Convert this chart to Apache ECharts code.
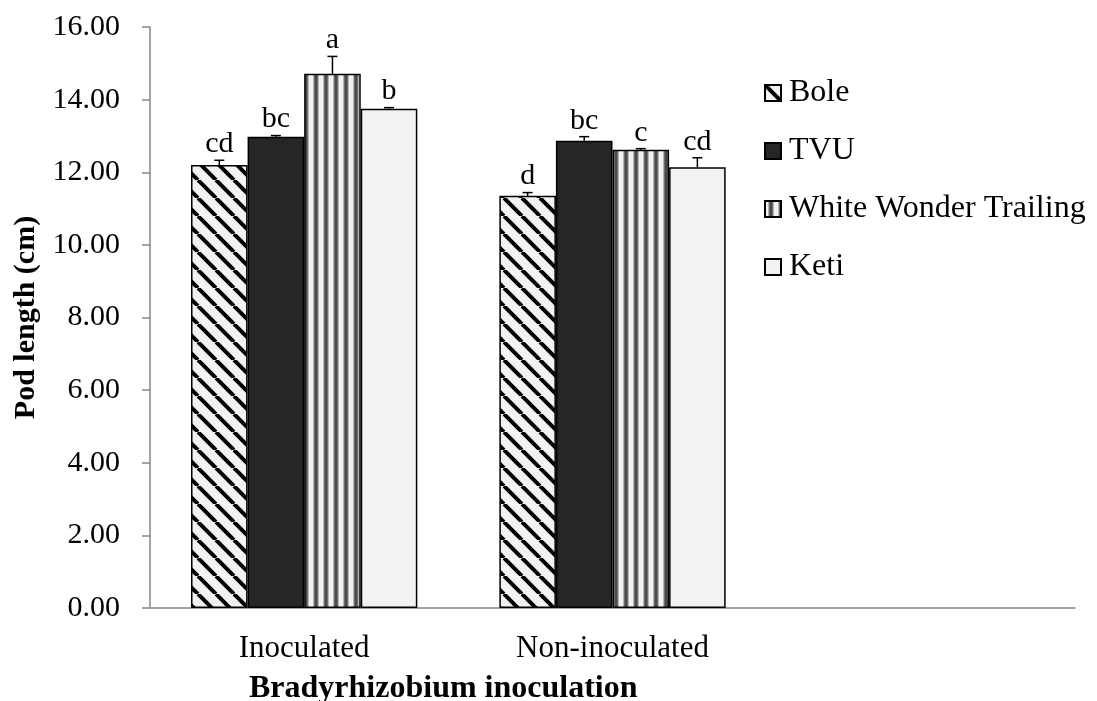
<!DOCTYPE html>
<html>
<head>
<meta charset="utf-8">
<script src="https://cdn.jsdelivr.net/npm/echarts@6/dist/echarts.min.js"></script>
<style>
html,body{margin:0;padding:0;background:#fff;}
#chart{width:1097px;height:701px;}
</style>
</head>
<body>
<div id="chart"></div>
<script>
// ---- data ----
const categories = ['Inoculated', 'Non-inoculated', ''];
const seriesNames = ['Bole', 'TVU', 'White Wonder Trailing', 'Keti'];
const boleValues = [12.20, 11.35];
const tvuValues = [12.98, 12.87];
const wwtValues = [14.71, 12.62];
const ketiValues = [13.75, 12.14];
const boleErrors = [0.13, 0.09];
const tvuErrors = [0.03, 0.11];
const wwtErrors = [0.48, 0.03];
const ketiErrors = [0.03, 0.26];
const boleLetters = ['cd', 'd'];
const tvuLetters = ['bc', 'bc'];
const wwtLetters = ['a', 'c'];
const ketiLetters = ['b', 'cd'];
const yTicks = [0, 2, 4, 6, 8, 10, 12, 14, 16];

const FONT = "'Liberation Serif','Times New Roman',serif";
const BAR_CAT_GAP = 0.266;

function diagPattern() {
  const s = 18;
  const c = document.createElement('canvas');
  c.width = s; c.height = s;
  const g = c.getContext('2d');
  g.fillStyle = '#f2f2f2';
  g.fillRect(0, 0, s, s);
  g.strokeStyle = '#000';
  g.lineWidth = 4;
  for (const off of [-s, 0, s]) {
    g.beginPath();
    g.moveTo(off, 0);
    g.lineTo(off + s, s);
    g.stroke();
  }
  return c;
}
function vertPattern() {
  const c = document.createElement('canvas');
  c.width = 10; c.height = 4;
  const g = c.getContext('2d');
  const cols = ['#f2f2f2', '#f2f2f2', '#f2f2f2', '#b5b5b5', '#6e6e6e', '#4a4a4a', '#4a4a4a', '#6e6e6e', '#b5b5b5', '#f2f2f2'];
  cols.forEach((col, i) => { g.fillStyle = col; g.fillRect(i, 0, 1, 4); });
  return c;
}

const fills = [
  { image: diagPattern(), repeat: 'repeat' },
  '#262626',
  { image: vertPattern(), repeat: 'repeat' },
  '#f2f2f2'
];
const valueSets = [boleValues, tvuValues, wwtValues, ketiValues];
const errorSets = [boleErrors, tvuErrors, wwtErrors, ketiErrors];
const letterSets = [boleLetters, tvuLetters, wwtLetters, ketiLetters];

const barSeries = seriesNames.map((name, i) => ({
  name: name,
  type: 'bar',
  data: valueSets[i],
  barGap: '0%',
  barCategoryGap: (BAR_CAT_GAP * 100) + '%',
  itemStyle: { color: fills[i], borderColor: '#000', borderWidth: 1.5 },
  emphasis: { disabled: true },
  z: 2
}));

const errSeries = seriesNames.map((name, i) => ({
  name: name + ' err',
  type: 'custom',
  z: 5,
  silent: true,
  data: valueSets[i].map((v, k) => [k, v, errorSets[i][k]]),
  encode: { x: 0, y: 1 },
  renderItem: function (params, api) {
    const cat = api.value(0);
    const v = api.value(1);
    const e = api.value(2);
    const base = api.coord([cat, v]);
    const catW = api.size([1, 0])[0];
    const barW = catW * (1 - BAR_CAT_GAP) / 4;
    const cx = base[0] + (i - 1.5) * barW;
    const yTop = api.coord([cat, v + e])[1];
    const yBar = base[1];
    const txt = letterSets[i][params.dataIndex];
    return {
      type: 'group',
      children: [
        { type: 'line', shape: { x1: cx, y1: yBar, x2: cx, y2: yTop }, style: { stroke: '#000', lineWidth: 1.5 } },
        { type: 'line', shape: { x1: cx - 5, y1: yTop, x2: cx + 5, y2: yTop }, style: { stroke: '#000', lineWidth: 1.5 } },
        { type: 'text', style: { text: txt, x: cx, y: yTop - 1, align: 'center', verticalAlign: 'bottom', fontSize: 30, fontFamily: FONT, fill: '#000' } }
      ]
    };
  }
}));

const chart = echarts.init(document.getElementById('chart'), null, { renderer: 'canvas' });
chart.setOption({
  animation: false,
  backgroundColor: '#fff',
  grid: { left: 150, right: 22, top: 27, bottom: 93, containLabel: false },
  legend: {
    data: seriesNames,
    orient: 'vertical',
    left: 764,
    top: 77,
    padding: 0,
    itemWidth: 16,
    itemHeight: 16,
    itemGap: 26,
    icon: 'rect',
    selectedMode: false,
    textStyle: { fontSize: 32, fontFamily: FONT, color: '#000', lineHeight: 32, padding: [0, 0, 0, 3] }
  },
  xAxis: {
    type: 'category',
    data: categories,
    axisLine: { lineStyle: { color: '#868686', width: 1.5 } },
    axisTick: { show: false },
    axisLabel: { fontSize: 31, fontFamily: FONT, color: '#000', margin: 25 }
  },
  yAxis: {
    type: 'value',
    min: yTicks[0],
    max: yTicks[yTicks.length - 1],
    interval: 2,
    name: 'Pod length (cm)',
    nameLocation: 'middle',
    nameGap: 103,
    nameTextStyle: { fontSize: 30, fontWeight: 'bold', fontFamily: FONT, color: '#000' },
    axisLine: { show: true, lineStyle: { color: '#868686', width: 1.5 } },
    axisTick: { show: true, length: 8, lineStyle: { color: '#868686', width: 1.5 } },
    splitLine: { show: false },
    axisLabel: { fontSize: 30, fontFamily: FONT, color: '#000', margin: 30, formatter: v => v.toFixed(2) }
  },
  graphic: [{
    type: 'text',
    left: 249,
    top: 673,
    style: { text: 'Bradyrhizobium inoculation', fontSize: 32, fontWeight: 'bold', fontFamily: FONT, fill: '#000' }
  }],
  series: barSeries.concat(errSeries)
});
</script>
</body>
</html>
